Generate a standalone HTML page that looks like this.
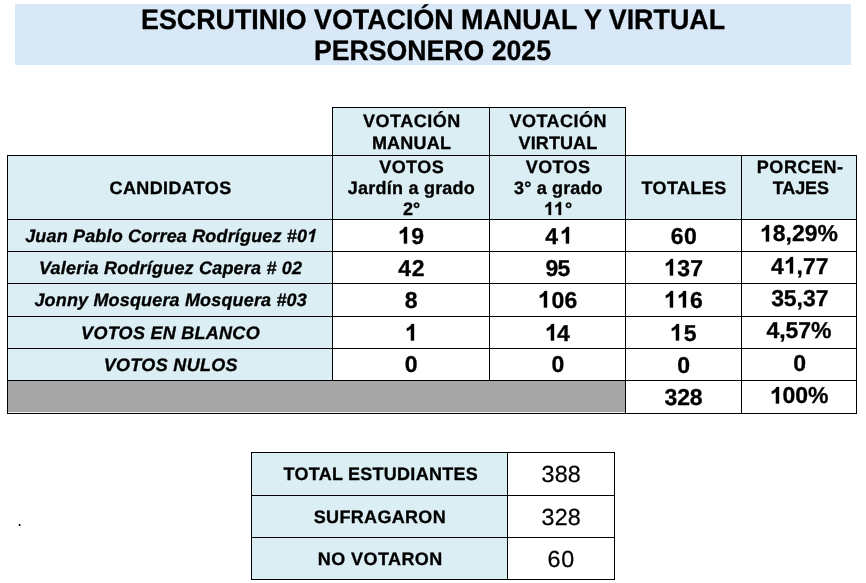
<!DOCTYPE html>
<html><head><meta charset="utf-8"><title>Escrutinio</title>
<style>
html,body{margin:0;padding:0;background:#fff;}
body{width:866px;height:583px;position:relative;overflow:hidden;font-family:"Liberation Sans",sans-serif;color:#000;text-rendering:geometricPrecision;}
.r{position:absolute;}
.tx{position:absolute;left:0;top:0;width:866px;height:583px;will-change:transform;}
.t{position:absolute;line-height:0;white-space:nowrap;}
.b{font-weight:bold;-webkit-text-stroke:0.3px #000;}
.bi{font-weight:bold;font-style:italic;-webkit-text-stroke:0.3px #000;}
.n{font-weight:normal;-webkit-text-stroke:0.25px #000;}
.o{display:inline-block;width:.5562em;height:0;position:relative;margin-right:var(--ls,0px);}.o svg{position:absolute;left:0;bottom:0;width:100%;height:.7188em;overflow:visible;}.o path{fill:#000;stroke:#000;stroke-width:0.3px;vector-effect:non-scaling-stroke;}.bi .o svg{transform:skewX(-12deg);transform-origin:50% 100%;left:-.05em;}
</style></head><body>
<div class="r" style="left:15px;top:4px;width:836px;height:61px;background:#D9E8F7"></div>
<div class="r" style="left:332px;top:107px;width:293px;height:48px;background:#DAEEF3"></div>
<div class="r" style="left:7px;top:155px;width:849px;height:64px;background:#DAEEF3"></div>
<div class="r" style="left:7px;top:219px;width:325px;height:161px;background:#DAEEF3"></div>
<div class="r" style="left:7px;top:380px;width:618px;height:33px;background:#A6A6A6"></div>
<div class="r" style="left:332px;top:107px;width:294px;height:1px;background:#000"></div>
<div class="r" style="left:7px;top:155px;width:850px;height:1px;background:#000"></div>
<div class="r" style="left:7px;top:219px;width:850px;height:1px;background:#000"></div>
<div class="r" style="left:7px;top:251px;width:850px;height:1px;background:#000"></div>
<div class="r" style="left:7px;top:283px;width:850px;height:1px;background:#000"></div>
<div class="r" style="left:7px;top:316px;width:850px;height:1px;background:#000"></div>
<div class="r" style="left:7px;top:348px;width:850px;height:1px;background:#000"></div>
<div class="r" style="left:7px;top:380px;width:850px;height:1px;background:#000"></div>
<div class="r" style="left:7px;top:413px;width:850px;height:1px;background:#000"></div>
<div class="r" style="left:7px;top:155px;width:1px;height:259px;background:#000"></div>
<div class="r" style="left:332px;top:107px;width:1px;height:274px;background:#000"></div>
<div class="r" style="left:489px;top:107px;width:1px;height:274px;background:#000"></div>
<div class="r" style="left:625px;top:107px;width:1px;height:307px;background:#000"></div>
<div class="r" style="left:741px;top:155px;width:1px;height:259px;background:#000"></div>
<div class="r" style="left:856px;top:155px;width:1px;height:259px;background:#000"></div>
<div class="r" style="left:251px;top:452px;width:256px;height:127px;background:#DAEEF3"></div>
<div class="r" style="left:251px;top:452px;width:364px;height:1px;background:#000"></div>
<div class="r" style="left:251px;top:495px;width:364px;height:1px;background:#000"></div>
<div class="r" style="left:251px;top:537px;width:364px;height:1px;background:#000"></div>
<div class="r" style="left:251px;top:579px;width:364px;height:1px;background:#000"></div>
<div class="r" style="left:251px;top:452px;width:1px;height:128px;background:#000"></div>
<div class="r" style="left:507px;top:452px;width:1px;height:128px;background:#000"></div>
<div class="r" style="left:614px;top:452px;width:1px;height:128px;background:#000"></div>
<div class="r" style="left:18px;top:524px;width:1px;height:2px;background:#ccc"></div>
<div class="r" style="left:19px;top:524px;width:1px;height:2px;background:#000"></div>
<div class="r" style="left:20px;top:524px;width:1px;height:2px;background:#999"></div>
<div class="r" style="left:8px;top:412px;width:617px;height:1px;background:#f6f6f6"></div>
<div class="tx">
<div class="t b" style="left:140.68px;top:19.7px;font-size:28.0px;transform:scaleX(0.9586);transform-origin:0 0;">ESCRUTINIO VOTACIÓN MANUAL Y VIRTUAL</div>
<div class="t b" style="left:313.9px;top:50.6px;font-size:28.0px;transform:scaleX(0.9517);transform-origin:0 0;">PERSONERO 2025</div>
<div class="t b" style="left:363.08px;top:121.26px;font-size:18.0px;letter-spacing:0.488px;">VOTACIÓN</div>
<div class="t b" style="left:371.89px;top:143.06px;font-size:18.0px;letter-spacing:0.23px;">MANUAL</div>
<div class="t b" style="left:509.53px;top:121.26px;font-size:18.0px;letter-spacing:0.466px;">VOTACIÓN</div>
<div class="t b" style="left:518.56px;top:143.06px;font-size:18.0px;letter-spacing:0.115px;">VIRTUAL</div>
<div class="t b" style="left:109.57px;top:187.66px;font-size:18.0px;letter-spacing:0.366px;">CANDIDATOS</div>
<div class="t b" style="left:379.24px;top:167.06px;font-size:18.0px;letter-spacing:0.441px;">VOTOS</div>
<div class="t b" style="left:347.85px;top:187.86px;font-size:18.0px;letter-spacing:0.226px;">Jardín a grado</div>
<div class="t b" style="left:402.92px;top:208.66px;font-size:18.0px;letter-spacing:0.03px;">2°</div>
<div class="t b" style="left:525.86px;top:167.06px;font-size:18.0px;letter-spacing:0.355px;">VOTOS</div>
<div class="t b" style="left:514.05px;top:187.86px;font-size:18.0px;letter-spacing:0.147px;">3° a grado</div>
<div class="t b" style="left:543.91px;top:208.66px;font-size:18.0px;letter-spacing:0.545px;--ls:0.545px;"><span class="o"><svg viewBox="0 0 1139 1472" preserveAspectRatio="none"><path d="M806 1472H525V413Q371 557 162 626V371Q272 335 401 234.5Q530 134 578 0H806Z"/></svg></span><span class="o"><svg viewBox="0 0 1139 1472" preserveAspectRatio="none"><path d="M806 1472H525V413Q371 557 162 626V371Q272 335 401 234.5Q530 134 578 0H806Z"/></svg></span>°</div>
<div class="t b" style="left:641.49px;top:187.66px;font-size:18.0px;letter-spacing:0.39px;">TOTALES</div>
<div class="t b" style="left:756.8px;top:167.16px;font-size:18.0px;letter-spacing:0.544px;">PORCEN-</div>
<div class="t b" style="left:772.69px;top:187.66px;font-size:18.0px;letter-spacing:-0.096px;">TAJES</div>
<div class="t bi" style="left:25.15px;top:235.76px;font-size:18.0px;letter-spacing:0.167px;--ls:0.167px;">Juan Pablo Correa Rodríguez #0<span class="o"><svg viewBox="0 0 1139 1472" preserveAspectRatio="none"><path d="M806 1472H525V413Q371 557 162 626V371Q272 335 401 234.5Q530 134 578 0H806Z"/></svg></span></div>
<div class="t bi" style="left:39.01px;top:267.56px;font-size:18.0px;letter-spacing:0.202px;">Valeria Rodríguez Capera # 02</div>
<div class="t bi" style="left:34.45px;top:299.56px;font-size:18.0px;letter-spacing:0.165px;">Jonny Mosquera Mosquera #03</div>
<div class="t bi" style="left:81.11px;top:332.66px;font-size:18.0px;letter-spacing:0.275px;">VOTOS EN BLANCO</div>
<div class="t bi" style="left:103.73px;top:364.66px;font-size:18.0px;letter-spacing:0.318px;">VOTOS NULOS</div>
<div class="t b" style="left:398.0px;top:235.88px;font-size:23.0px;letter-spacing:0.398px;--ls:0.398px;"><span class="o"><svg viewBox="0 0 1139 1472" preserveAspectRatio="none"><path d="M806 1472H525V413Q371 557 162 626V371Q272 335 401 234.5Q530 134 578 0H806Z"/></svg></span>9</div>
<div class="t b" style="left:398.35px;top:267.88px;font-size:23.0px;letter-spacing:0.631px;">42</div>
<div class="t b" style="left:404.76px;top:299.88px;font-size:23.0px;">8</div>
<div class="t b" style="left:405.43px;top:332.68px;font-size:23.0px;"><span class="o"><svg viewBox="0 0 1139 1472" preserveAspectRatio="none"><path d="M806 1472H525V413Q371 557 162 626V371Q272 335 401 234.5Q530 134 578 0H806Z"/></svg></span></div>
<div class="t b" style="left:404.79px;top:364.48px;font-size:23.0px;">0</div>
<div class="t b" style="left:545.36px;top:235.88px;font-size:23.0px;letter-spacing:1.482px;--ls:1.482px;">4<span class="o"><svg viewBox="0 0 1139 1472" preserveAspectRatio="none"><path d="M806 1472H525V413Q371 557 162 626V371Q272 335 401 234.5Q530 134 578 0H806Z"/></svg></span></div>
<div class="t b" style="left:545.38px;top:267.88px;font-size:23.0px;letter-spacing:-0.667px;">95</div>
<div class="t b" style="left:538.4px;top:299.88px;font-size:23.0px;letter-spacing:0.258px;--ls:0.258px;"><span class="o"><svg viewBox="0 0 1139 1472" preserveAspectRatio="none"><path d="M806 1472H525V413Q371 557 162 626V371Q272 335 401 234.5Q530 134 578 0H806Z"/></svg></span>06</div>
<div class="t b" style="left:544.85px;top:332.68px;font-size:23.0px;letter-spacing:-0.612px;--ls:-0.612px;"><span class="o"><svg viewBox="0 0 1139 1472" preserveAspectRatio="none"><path d="M806 1472H525V413Q371 557 162 626V371Q272 335 401 234.5Q530 134 578 0H806Z"/></svg></span>4</div>
<div class="t b" style="left:551.59px;top:364.48px;font-size:23.0px;">0</div>
<div class="t b" style="left:670.63px;top:235.68px;font-size:23.0px;letter-spacing:0.523px;">60</div>
<div class="t b" style="left:664.25px;top:267.78px;font-size:23.0px;letter-spacing:0.216px;--ls:0.216px;"><span class="o"><svg viewBox="0 0 1139 1472" preserveAspectRatio="none"><path d="M806 1472H525V413Q371 557 162 626V371Q272 335 401 234.5Q530 134 578 0H806Z"/></svg></span>37</div>
<div class="t b" style="left:664.05px;top:299.58px;font-size:23.0px;letter-spacing:0.16px;--ls:0.16px;"><span class="o"><svg viewBox="0 0 1139 1472" preserveAspectRatio="none"><path d="M806 1472H525V413Q371 557 162 626V371Q272 335 401 234.5Q530 134 578 0H806Z"/></svg></span><span class="o"><svg viewBox="0 0 1139 1472" preserveAspectRatio="none"><path d="M806 1472H525V413Q371 557 162 626V371Q272 335 401 234.5Q530 134 578 0H806Z"/></svg></span>6</div>
<div class="t b" style="left:670.44px;top:332.68px;font-size:23.0px;letter-spacing:0.433px;--ls:0.433px;"><span class="o"><svg viewBox="0 0 1139 1472" preserveAspectRatio="none"><path d="M806 1472H525V413Q371 557 162 626V371Q272 335 401 234.5Q530 134 578 0H806Z"/></svg></span>5</div>
<div class="t b" style="left:677.19px;top:364.78px;font-size:23.0px;">0</div>
<div class="t b" style="left:664.6px;top:396.78px;font-size:23.0px;letter-spacing:-0.198px;">328</div>
<div class="t b" style="left:760.1px;top:233.48px;font-size:23.0px;letter-spacing:-0.026px;--ls:-0.026px;"><span class="o"><svg viewBox="0 0 1139 1472" preserveAspectRatio="none"><path d="M806 1472H525V413Q371 557 162 626V371Q272 335 401 234.5Q530 134 578 0H806Z"/></svg></span>8,29%</div>
<div class="t b" style="left:771.0px;top:265.68px;font-size:23.0px;letter-spacing:-0.018px;--ls:-0.018px;">4<span class="o"><svg viewBox="0 0 1139 1472" preserveAspectRatio="none"><path d="M806 1472H525V413Q371 557 162 626V371Q272 335 401 234.5Q530 134 578 0H806Z"/></svg></span>,77</div>
<div class="t b" style="left:771.15px;top:297.78px;font-size:23.0px;letter-spacing:-0.064px;">35,37</div>
<div class="t b" style="left:766.43px;top:330.48px;font-size:23.0px;letter-spacing:-0.062px;">4,57%</div>
<div class="t b" style="left:793.19px;top:362.68px;font-size:23.0px;">0</div>
<div class="t b" style="left:769.66px;top:395.08px;font-size:23.0px;letter-spacing:-0.003px;--ls:-0.003px;"><span class="o"><svg viewBox="0 0 1139 1472" preserveAspectRatio="none"><path d="M806 1472H525V413Q371 557 162 626V371Q272 335 401 234.5Q530 134 578 0H806Z"/></svg></span>00%</div>
<div class="t b" style="left:283.54px;top:474.36px;font-size:18.0px;letter-spacing:0.258px;">TOTAL ESTUDIANTES</div>
<div class="t b" style="left:313.79px;top:516.86px;font-size:18.0px;letter-spacing:0.32px;">SUFRAGARON</div>
<div class="t b" style="left:317.83px;top:558.86px;font-size:18.0px;letter-spacing:0.415px;">NO VOTARON</div>
<div class="t n" style="left:541.5px;top:473.88px;font-size:23.3px;letter-spacing:0.196px;">388</div>
<div class="t n" style="left:541.5px;top:516.98px;font-size:23.3px;letter-spacing:0.196px;">328</div>
<div class="t n" style="left:547.46px;top:558.78px;font-size:23.3px;letter-spacing:0.799px;">60</div>
</div>
</body></html>
